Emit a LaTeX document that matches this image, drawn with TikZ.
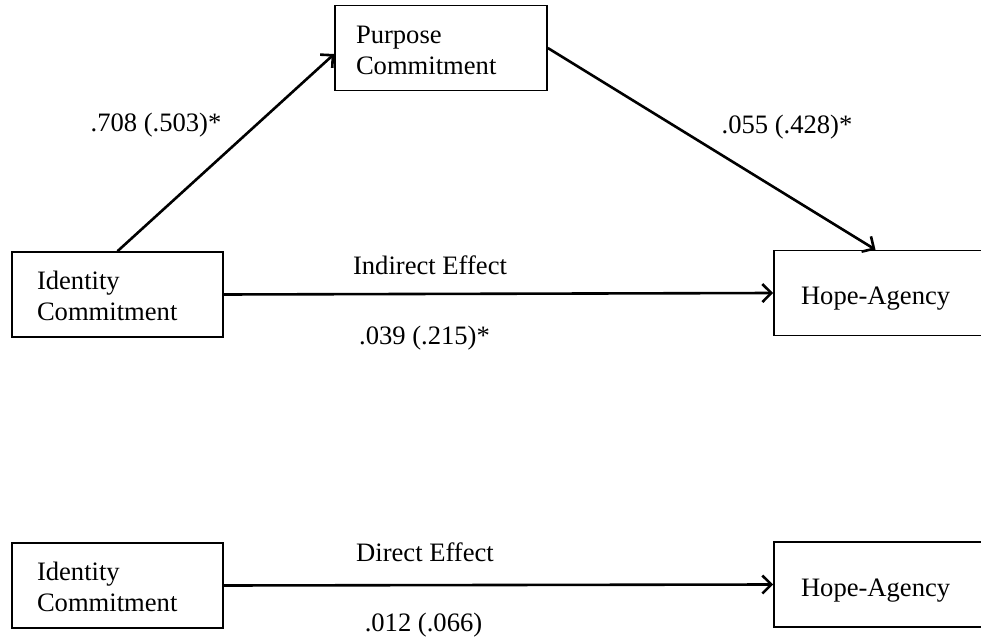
\documentclass[tikz,border=0pt]{standalone}
\usepackage{fontspec}
\setmainfont{Liberation Serif}
\usetikzlibrary{positioning,arrows.meta}

\begin{document}
\begin{tikzpicture}[
x=0.5pt, y=-0.5pt,
font=\fontsize{13.3}{15.5}\selectfont,
>={Straight Barb[length=4.5pt,width=9pt]},
box/.style={rectangle, draw, line width=0.8pt, align=left, text width=80.5pt, inner xsep=12.5pt, minimum height=42.5pt},
link/.style={->, line width=1.3pt},
lbl/.style={inner sep=0pt}
]
\useasboundingbox (0,0) rectangle (981,642);

% indirect model
\node[box, text height=11pt] (ident) at (117.5,294.5) {Identity\\Commitment};
\node[box, inner xsep=10.5pt, text width=85pt, text height=11pt] (purpose) at (441,48) {Purpose\\Commitment};
\node[box, inner xsep=13.5pt, text height=12pt, text depth=0pt] (hope) at (881.5,293) {Hope-Agency};

\draw[link] (ident.north) -- ([yshift=-3pt]purpose.west);
\draw[link] (purpose.east) -- ([xshift=-3pt]hope.north);
\draw[link] (ident.east) -- (hope.west);

\node[lbl] (apath) at (156,125) {.708 (.503)*};
\node[lbl] (bpath) at (787,127) {.055 (.428)*};
\node[lbl] (indlabel) at (430,265) {Indirect Effect};
\node[lbl] (indcoef) at (424.5,338) {.039 (.215)*};

% direct model
\node[box, text height=11pt] (ident2) at (117.5,585.5) {Identity\\Commitment};
\node[box, inner xsep=13.5pt, text height=12pt, text depth=0pt] (hope2) at (881.5,584.5) {Hope-Agency};

\draw[link] (ident2.east) -- (hope2.west);

\node[lbl] (dirlabel) at (425,552) {Direct Effect};
\node[lbl] (dircoef) at (423.5,625) {.012 (.066)};

\end{tikzpicture}
\end{document}
